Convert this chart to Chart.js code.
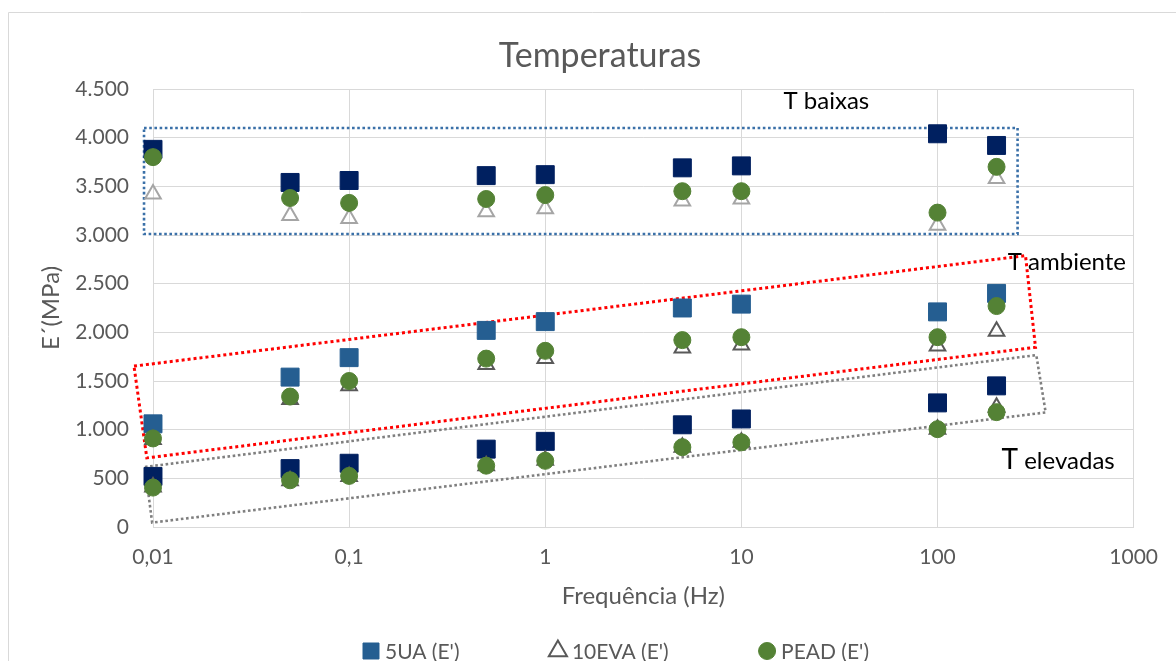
<!DOCTYPE html>
<html>
<head>
<meta charset="utf-8">
<title>Temperaturas</title>
<script src="https://cdn.jsdelivr.net/npm/chart.js@4.4.1/dist/chart.umd.min.js"></script>
<style>
  html, body { margin: 0; padding: 0; background: #ffffff; }
  #wrap { width: 1176px; height: 661px; position: relative; }
  canvas { display: block; }
</style>
</head>
<body>
<div id="wrap"><canvas id="chart" width="1176" height="661"></canvas></div>
<script>
// Measured frequencies (Hz)
const frequencies = [0.01, 0.05, 0.1, 0.5, 1, 5, 10, 100, 200];

// Storage modulus E' (MPa) at low temperature
const ua5Low   = [3880, 3540, 3560, 3610, 3620, 3690, 3710, 4040, 3920];
const eva10Low = [3420, 3200, 3170, 3240, 3270, 3350, 3370, 3100, 3580];
const peadLow  = [3800, 3380, 3330, 3370, 3410, 3450, 3450, 3230, 3700];

// Storage modulus E' (MPa) at room temperature
const ua5Room   = [1060, 1540, 1740, 2020, 2110, 2250, 2290, 2210, 2400];
const eva10Room = [900, 1310, 1450, 1670, 1730, 1840, 1870, 1860, 2010];
const peadRoom  = [910, 1340, 1500, 1730, 1810, 1920, 1950, 1950, 2270];

// Storage modulus E' (MPa) at high temperature
const ua5High   = [520, 600, 655, 800, 880, 1050, 1110, 1275, 1450];
const eva10High = [410, 475, 520, 630, 685, 820, 870, 1005, 1230];
const peadHigh  = [405, 480, 525, 630, 680, 820, 870, 1005, 1180];

// Axis ticks
const xTickValues = [0.01, 0.1, 1, 10, 100, 1000];
const xTickLabels = ['0,01', '0,1', '1', '10', '100', '1000'];
const yTickValues = [0, 500, 1000, 1500, 2000, 2500, 3000, 3500, 4000, 4500];
const yTickLabels = ['0', '500', '1.000', '1.500', '2.000', '2.500', '3.000', '3.500', '4.000', '4.500'];

const seriesNames = ["5UA (E')", "10EVA (E')", "PEAD (E')"];

// Dotted outlines grouping each temperature range, corners in (Hz, MPa)
const regionOutlines = [
  { color: '#3A70A8', width: 2.6, corners: [[0.009, 4100], [256, 4100], [256, 3010], [0.009, 3010]] },
  { color: '#FF0000', width: 3,   corners: [[0.0080, 1653], [281, 2788], [316, 1846], [0.0093, 710]] },
  { color: '#7F7F7F', width: 2.6, corners: [[0.0091, 617], [319, 1766], [356, 1177], [0.0099, 45]] }
];

// Range labels, anchored at the left end of their baseline (Hz, MPa)
const regionLabels = [
  { at: [16.4, 4294], parts: [['T baixas', 24]] },
  { at: [228, 2641],  parts: [['T ambiente', 24]] },
  { at: [212, 601],   parts: [['T', 28], [' elevadas', 24]] }
];

const FONT = 'Lato, "Open Sans", sans-serif';
const TEXT_GREY = '#595959';
const GRID = '#D9D9D9';

const NAVY = '#002060';
const BLUE = '#255E91';
const GREEN = '#548235';
const TRI_LIGHT = '#A5A5A5';
const TRI_DARK = '#595959';

const points = values => frequencies.map((f, i) => ({ x: f, y: values[i] }));

const squareStyle = color => ({
  pointStyle: 'rect', pointRadius: 12.7, pointHoverRadius: 12.7,
  backgroundColor: color, borderColor: color, borderWidth: 1, order: 2
});
const triangleStyle = color => ({
  pointStyle: 'triangle', pointRadius: 9, pointHoverRadius: 9,
  backgroundColor: 'rgba(255,255,255,0)', borderColor: color, borderWidth: 2, order: 1
});
const circleStyle = color => ({
  pointStyle: 'circle', pointRadius: 8.5, pointHoverRadius: 8.5,
  backgroundColor: color, borderColor: color, borderWidth: 1, order: 0
});

const datasets = [
  { label: seriesNames[0], data: points(ua5Room),   ...squareStyle(BLUE) },
  { label: seriesNames[1], data: points(eva10Room), ...triangleStyle(TRI_DARK) },
  { label: seriesNames[2], data: points(peadRoom),  ...circleStyle(GREEN) },
  { label: seriesNames[0], data: points(ua5Low),    ...squareStyle(NAVY) },
  { label: seriesNames[1], data: points(eva10Low),  ...triangleStyle(TRI_LIGHT) },
  { label: seriesNames[2], data: points(peadLow),   ...circleStyle(GREEN) },
  { label: seriesNames[0], data: points(ua5High),   ...squareStyle(NAVY) },
  { label: seriesNames[1], data: points(eva10High), ...triangleStyle(TRI_DARK) },
  { label: seriesNames[2], data: points(peadHigh),  ...circleStyle(GREEN) }
].map(d => ({ ...d, showLine: false, clip: false }));

// Title, range outlines and labels, legend row and outer frame
const decorations = {
  id: 'decorations',
  beforeDatasetsDraw(chart) {
    const { ctx, scales: { x, y } } = chart;
    ctx.save();
    regionOutlines.forEach(r => {
      ctx.beginPath();
      r.corners.forEach(([f, v], i) => {
        const px = x.getPixelForValue(f), py = y.getPixelForValue(v);
        if (i === 0) ctx.moveTo(px, py); else ctx.lineTo(px, py);
      });
      ctx.closePath();
      ctx.strokeStyle = r.color;
      ctx.lineWidth = r.width;
      ctx.setLineDash([r.width, r.width]);
      ctx.stroke();
    });
    ctx.restore();
  },
  afterDraw(chart) {
    const { ctx, scales: { x, y } } = chart;
    ctx.save();

    // outer frame
    ctx.strokeStyle = GRID;
    ctx.lineWidth = 1;
    ctx.setLineDash([]);
    ctx.beginPath();
    ctx.moveTo(8.5, 661);
    ctx.lineTo(8.5, 12.5);
    ctx.lineTo(1176, 12.5);
    ctx.stroke();

    // chart title
    ctx.fillStyle = TEXT_GREY;
    ctx.font = '34px ' + FONT;
    ctx.textAlign = 'center';
    ctx.textBaseline = 'middle';
    ctx.fillText('Temperaturas', 600, 56);

    // range labels
    ctx.fillStyle = '#000000';
    ctx.textAlign = 'left';
    ctx.textBaseline = 'alphabetic';
    regionLabels.forEach(l => {
      let px = x.getPixelForValue(l.at[0]);
      const py = y.getPixelForValue(l.at[1]);
      l.parts.forEach(([text, size]) => {
        ctx.font = size + 'px ' + FONT;
        ctx.fillText(text, px, py);
        px += ctx.measureText(text).width;
      });
    });

    // legend row
    const legendY = 651;
    const rowLeft = 362, rowRight = 869;
    const markerW = 18, markerGap = 5;
    ctx.font = '21px ' + FONT;
    const widths = seriesNames.map(n => markerW + markerGap + ctx.measureText(n).width);
    const gap = (rowRight - rowLeft - widths.reduce((a, b) => a + b, 0)) / (seriesNames.length - 1);
    let cx = rowLeft;
    const legendRadius = { rect: 11.3, triangle: 10.5, circle: 8.5 };
    seriesNames.forEach((name, i) => {
      const ds = chart.data.datasets[i];
      ctx.fillStyle = ds.backgroundColor;
      ctx.strokeStyle = ds.borderColor;
      ctx.lineWidth = ds.borderWidth;
      Chart.helpers.drawPoint(ctx, {
        pointStyle: ds.pointStyle,
        radius: legendRadius[ds.pointStyle],
        borderWidth: ds.borderWidth,
        rotation: 0
      }, cx + markerW / 2, legendY);
      ctx.fillStyle = TEXT_GREY;
      ctx.textAlign = 'left';
      ctx.textBaseline = 'middle';
      ctx.fillText(name, cx + markerW + markerGap, legendY + 1);
      cx += widths[i] + gap;
    });

    ctx.restore();
  }
};

const chart = new Chart(document.getElementById('chart'), {
  type: 'scatter',
  data: { datasets },
  options: {
    responsive: false,
    animation: false,
    devicePixelRatio: 1,
    layout: { padding: { left: 0, right: 20, top: 76, bottom: 0 } },
    plugins: {
      legend: { display: false },
      title: { display: false },
      tooltip: { enabled: false }
    },
    scales: {
      x: {
        type: 'logarithmic',
        min: 0.01,
        max: 1000,
        afterBuildTicks: axis => { axis.ticks = xTickValues.map(v => ({ value: v })); },
        afterFit: axis => { axis.height = 134; },
        grid: { color: GRID, lineWidth: 1, drawTicks: false },
        border: { color: GRID, width: 1 },
        ticks: {
          autoSkip: false,
          maxRotation: 0,
          padding: 18,
          color: TEXT_GREY,
          font: { family: FONT, size: 21 },
          callback: value => {
            const i = xTickValues.findIndex(v => Math.abs(Math.log10(v) - Math.log10(value)) < 1e-6);
            return i >= 0 ? xTickLabels[i] : '';
          }
        },
        title: {
          display: true,
          text: 'Frequência (Hz)',
          color: TEXT_GREY,
          font: { family: FONT, size: 24 },
          padding: { top: 0, bottom: 50 }
        }
      },
      y: {
        type: 'linear',
        min: 0,
        max: 4500,
        afterBuildTicks: axis => { axis.ticks = yTickValues.map(v => ({ value: v })); },
        afterFit: axis => { axis.width = 153; },
        grid: { color: GRID, lineWidth: 1, drawTicks: false },
        border: { color: GRID, width: 1 },
        ticks: {
          padding: 24,
          color: TEXT_GREY,
          font: { family: FONT, size: 21 },
          callback: value => {
            const i = yTickValues.indexOf(value);
            return i >= 0 ? yTickLabels[i] : '';
          }
        },
        title: {
          display: true,
          text: 'E´(MPa)',
          color: TEXT_GREY,
          font: { family: FONT, size: 24 },
          padding: { top: 37, bottom: 0 }
        }
      }
    }
  },
  plugins: [decorations]
});

// Settle the plot area on its intended frame
const frame = { top: 89, right: 1134 };
const pad = chart.options.layout.padding;
pad.top += frame.top - chart.chartArea.top;
pad.right += chart.chartArea.right - frame.right;
chart.update();
</script>
</body>
</html>
